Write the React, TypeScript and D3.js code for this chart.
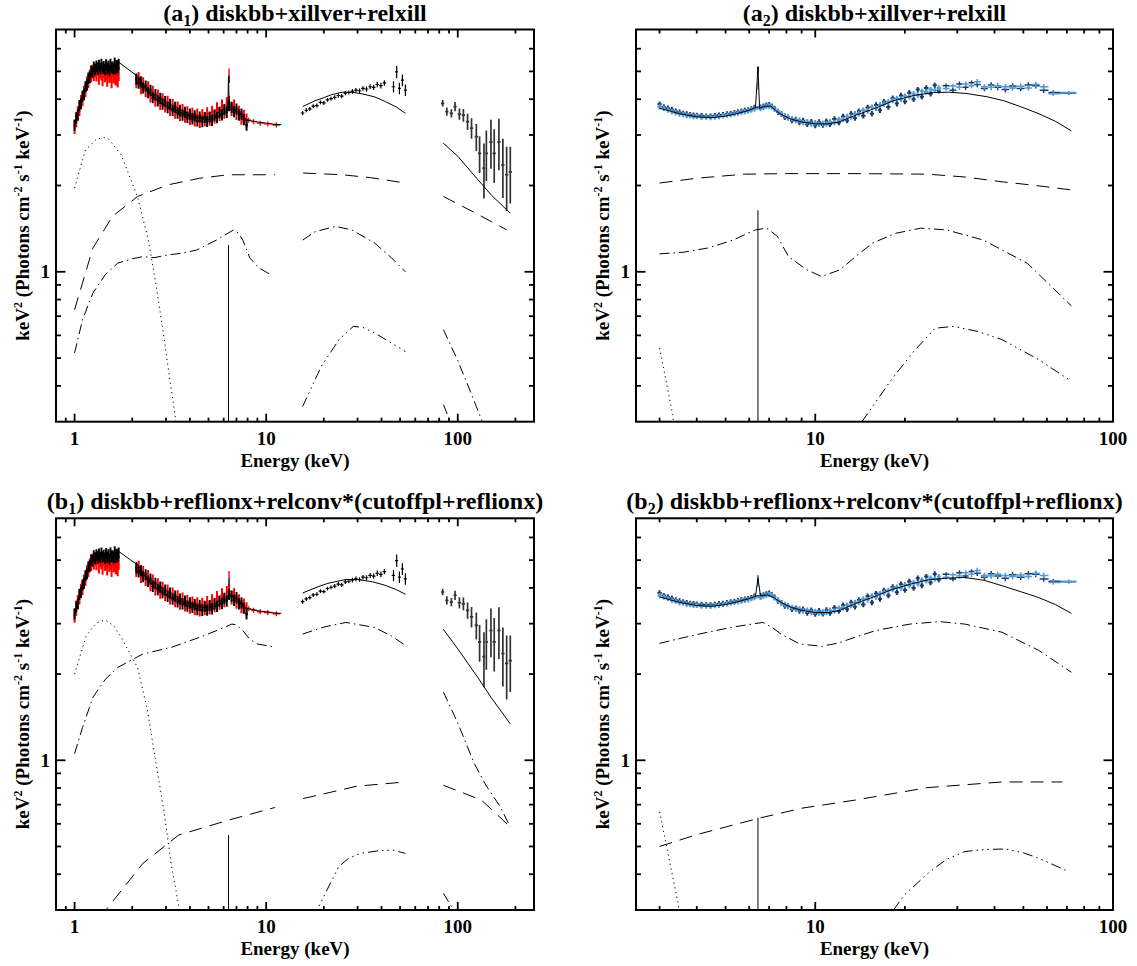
import React from "react";
import * as d3 from "d3";

type P = [number, number];

/* ================= Panel (1): broadband data 1–200 keV ================= */
const soft1E = [1.00,1.02,1.04,1.06,1.08,1.10,1.12,1.14,1.16,1.18,1.20,1.22,1.24,1.26,1.28,1.30,1.32,1.34,1.36,1.38,1.40,1.42,1.44,1.46,1.48,1.50,1.52,1.54,1.56,1.58,1.60,1.62,1.64,1.66,1.68,1.70];
const soft1Black = [3.25,3.45,3.52,3.80,3.86,4.10,4.15,4.42,4.48,4.74,4.78,5.02,4.98,5.18,5.08,5.22,5.10,5.25,5.12,5.30,5.14,5.20,5.08,5.28,5.12,5.22,5.05,5.30,5.15,5.18,5.10,5.35,5.12,5.24,5.16,5.30];
const soft1Red = [3.20,3.38,3.58,3.70,3.92,4.00,4.22,4.30,4.55,4.62,4.80,4.85,5.00,4.90,5.05,4.88,5.10,4.75,5.02,4.92,4.70,5.05,4.85,4.95,4.68,5.00,4.82,4.90,4.62,5.02,4.80,4.95,4.72,4.98,4.65,4.90];

const soft2E = [2.10,2.16,2.22,2.28,2.35,2.42,2.49,2.56,2.64,2.72,2.80,2.88,2.97,3.06,3.15,3.25,3.35,3.45,3.55,3.66,3.77,3.88,4.00,4.12,4.24,4.37,4.50,4.64,4.78,4.92,5.07,5.22,5.38,5.54,5.71,5.88,6.05,6.23,6.40,6.60,6.80,7.00,7.21,7.43,7.65,7.90];
const soft2Black = [4.70,4.55,4.60,4.38,4.45,4.22,4.30,4.05,4.15,3.95,4.03,3.85,3.93,3.74,3.84,3.66,3.75,3.58,3.66,3.52,3.60,3.46,3.55,3.42,3.50,3.36,3.47,3.34,3.45,3.35,3.47,3.38,3.52,3.45,3.60,3.53,3.68,3.60,3.80,3.75,3.62,3.70,3.52,3.55,3.40,3.25];
const soft2Red = [4.62,4.72,4.40,4.52,4.30,4.38,4.12,4.22,3.98,4.10,3.88,3.98,3.80,3.90,3.70,3.80,3.62,3.72,3.55,3.65,3.50,3.58,3.44,3.54,3.40,3.52,3.36,3.50,3.40,3.55,3.42,3.60,3.48,3.70,3.55,3.78,3.62,3.85,3.90,3.70,3.78,3.58,3.60,3.45,3.48,3.38];

const redTailE = [8.1, 8.6, 9.3, 10.2, 11.3];
const redTailF = [3.38, 3.34, 3.30, 3.28, 3.25];

const midE = [15.5,16.2,16.9,17.6,18.4,19.2,20.0,20.9,21.8,22.8,23.8,24.8,25.9,27.0,28.2,29.4,30.7,32.0,33.4,34.9,36.4,38.0,39.7,41.4,46.2,48.0,49.6,51.4,53.3];
const midF = [3.58,3.66,3.70,3.78,3.80,3.90,3.88,3.98,4.02,4.06,4.12,4.10,4.20,4.22,4.26,4.30,4.28,4.36,4.34,4.42,4.40,4.50,4.46,4.56,4.42,4.98,4.36,4.66,4.30];
const midErr = [0.06,0.06,0.06,0.06,0.06,0.06,0.06,0.06,0.06,0.07,0.07,0.07,0.07,0.07,0.08,0.08,0.08,0.08,0.09,0.09,0.09,0.10,0.10,0.10,0.20,0.25,0.20,0.22,0.20];

const hiE = [83.4,87.7,92.6,96.8,102,107,112.5,118,125,130,137,141,149,155,164,172,180,188];
const hiF = [3.87,3.62,3.57,3.77,3.55,3.52,3.34,3.17,2.96,2.59,2.30,2.59,2.84,2.59,2.84,2.36,2.18,2.23];
const hiErr = [0.10,0.12,0.12,0.14,0.16,0.18,0.22,0.26,0.32,0.38,0.50,0.52,0.55,0.55,0.58,0.55,0.55,0.50];

/* Fe-line peak data bins: [energy, black, red] */
const feA1 = [6.40, 4.70, 4.97];
const feB1 = [6.40, 4.20, 4.45];

/* ================= Panel (2): NuSTAR data 3–79 keV ================= */
const nuE = [3.0,3.1,3.2,3.3,3.4,3.5,3.6,3.7,3.8,3.9,4.0,4.15,4.3,4.45,4.6,4.75,4.9,5.05,5.2,5.35,5.5,5.65,5.8,5.95,6.1,6.25,6.55,6.7,6.85,7.0,7.15,7.3,7.5,7.7,7.9,8.1,8.35,8.6,8.85,9.1,9.4,9.7,10.0,10.3,10.6,10.9,11.2,11.6,12.0,12.4,12.8,13.2,13.6,14.0,14.5,15.0,15.5,16.0,16.5,17.0,17.6,18.2,18.8,19.4,20.0,20.7,21.4,22.1,22.8,23.6,24.4,25.2,26.0];
const nuDark = [3.84,3.76,3.72,3.68,3.63,3.60,3.57,3.55,3.53,3.52,3.51,3.50,3.49,3.49,3.50,3.52,3.53,3.55,3.57,3.59,3.61,3.63,3.65,3.67,3.70,3.74,3.75,3.78,3.81,3.83,3.78,3.71,3.60,3.55,3.46,3.46,3.37,3.40,3.32,3.37,3.27,3.34,3.24,3.33,3.25,3.35,3.27,3.41,3.32,3.48,3.37,3.56,3.44,3.63,3.50,3.74,3.56,3.82,3.66,3.92,3.76,4.03,3.86,4.12,3.93,4.21,4.00,4.32,4.08,4.38,4.18,4.47,4.28];
const nuLight = [3.76,3.72,3.67,3.62,3.59,3.55,3.54,3.51,3.50,3.48,3.48,3.46,3.46,3.45,3.47,3.48,3.50,3.52,3.54,3.56,3.58,3.60,3.62,3.64,3.67,3.70,3.71,3.75,3.78,3.79,3.76,3.69,3.63,3.54,3.50,3.44,3.42,3.37,3.38,3.32,3.34,3.28,3.31,3.27,3.30,3.28,3.34,3.32,3.40,3.40,3.48,3.47,3.56,3.56,3.66,3.64,3.75,3.72,3.82,3.85,3.92,3.96,4.02,4.00,4.10,4.08,4.18,4.14,4.26,4.24,4.32,4.30,4.38];

const nuHiE = [27.5,29.0,30.5,32.0,33.5,35.0,37.0,39.0,41.0,43.5,46.0,49.0,52.0,55.0,58.5,63.0,71.0];
const nuHiDark = [4.46,4.30,4.52,4.40,4.56,4.50,4.36,4.48,4.40,4.32,4.45,4.36,4.48,4.46,4.30,4.22,4.20];
const nuHiLight = [4.36,4.45,4.40,4.52,4.46,4.60,4.42,4.40,4.46,4.42,4.38,4.44,4.38,4.50,4.42,4.18,4.22];
const nuHiErr = [0.08,0.08,0.09,0.09,0.09,0.10,0.10,0.10,0.10,0.10,0.10,0.10,0.10,0.10,0.10,0.08,0.06];

const feA2 = [6.42, 5.05, 4.45];
const feB2 = [6.42, 4.30, 4.15];

/* ================= Model components ================= */
// (a1) diskbb+xillver+relxill
const a1Total: P[][] = [
  [[1.0,3.25],[1.05,3.7],[1.1,4.12],[1.15,4.5],[1.2,4.8],[1.25,5.0],[1.3,5.1],[1.4,5.18],[1.5,5.22],[1.6,5.28],[1.7,5.38],[2.15,4.79],[2.3,4.45],[2.5,4.15],[2.8,3.92],[3.0,3.80],[3.5,3.62],[4.0,3.50],[4.5,3.43],[5.0,3.40],[5.5,3.46],[6.0,3.57],[6.3,3.65],[6.36,4.8],[6.42,3.68],[6.8,3.68],[7.2,3.6],[7.6,3.46],[8.0,3.38],[9.0,3.33],[10,3.30],[11,3.27],[12,3.26]],
  [[15.5,3.77],[18,3.95],[20,4.05],[22,4.15],[25,4.23],[28,4.23],[32,4.17],[37,4.07],[42,3.92],[48,3.75],[53.3,3.57]],
  [[84,2.81],[100,2.53],[127,2.1],[150,1.85],[188,1.60]],
];
const a1Disk: P[][] = [[[1.0,1.96],[1.14,2.66],[1.3,2.90],[1.42,2.94],[1.5,2.91],[1.75,2.56],[2.13,1.83],[2.42,1.30],[2.58,1.02],[2.69,0.86],[2.94,0.58],[3.07,0.47],[3.34,0.318],[3.42,0.28]]];
const a1Xill: P[][] = [
  [[1.0,0.737],[1.246,1.21],[1.577,1.56],[2.13,1.83],[3.07,2.01],[4.5,2.12],[6.36,2.18],[11.1,2.18]],
  [[15.6,2.21],[25,2.18],[35,2.13],[53.3,2.04]],
  [[84.2,1.83],[120,1.62],[166.6,1.44],[180,1.40]],
];
const a1Rel: P[][] = [
  [[1.0,0.521],[1.1,0.68],[1.246,0.843],[1.45,0.98],[1.68,1.072],[2.0,1.11],[2.27,1.13],[2.6,1.12],[3.07,1.145],[3.6,1.16],[4.32,1.19],[5.5,1.29],[6.4,1.37],[6.77,1.40],[7.2,1.36],[7.55,1.29],[8.23,1.116],[9.2,1.03],[10.6,0.976]],
  [[15.5,1.29],[18,1.38],[23,1.44],[28,1.40],[36.8,1.26],[45,1.12],[53.3,1.0]],
  [[84.2,0.628],[100,0.49],[115,0.39],[133,0.305],[140,0.28]],
];
const a1Ref: P[][] = [
  [[15.5,0.339],[19.4,0.468],[24,0.58],[28.5,0.645],[32,0.64],[36.8,0.612],[45,0.565],[53.3,0.527]],
  [[84.2,0.344],[90.6,0.305],[93,0.28]],
];
const a1Line: P[] = [[6.36,0.28],[6.36,1.24]];

// (a2)
const a2Total: P[][] = [[[3.0,3.72],[3.5,3.56],[4.0,3.47],[4.5,3.45],[5.0,3.49],[5.5,3.57],[6.0,3.66],[6.3,3.74],[6.42,5.19],[6.5,3.72],[6.8,3.78],[7.1,3.78],[7.6,3.56],[8.2,3.42],[9.0,3.33],[10,3.28],[11,3.28],[12,3.33],[13.5,3.5],[15.7,3.7],[18.3,3.95],[21.4,4.12],[24.9,4.22],[28,4.23],[32,4.19],[37.7,4.08],[43,3.95],[48.8,3.77],[56,3.57],[64,3.35],[72.5,3.1]]];
const a2Xill: P[][] = [[[3.0,2.04],[4.0,2.12],[5.78,2.19],[8,2.2],[13.6,2.2],[23.9,2.19],[32,2.14],[42.4,2.06],[55,2.0],[72.5,1.93]]];
const a2Rel: P[][] = [[[3.0,1.155],[3.6,1.17],[4.35,1.21],[5.3,1.29],[6.29,1.40],[6.86,1.42],[7.46,1.33],[8.13,1.13],[9.37,1.016],[10.5,0.963],[12.1,1.016],[13.8,1.14],[15.6,1.26],[18.5,1.36],[22.6,1.42],[27.6,1.40],[36.7,1.29],[51.6,1.07],[72.5,0.76]]];
const a2Ref: P[][] = [[[14.35,0.30],[18.0,0.42],[21.5,0.53],[25.3,0.636],[29.2,0.645],[35,0.62],[42.4,0.58],[56.3,0.494],[72.5,0.415]]];
const a2Disk: P[][] = [[[3.0,0.542],[3.32,0.318],[3.36,0.28]]];
const a2Line: P[] = [[6.42,0.28],[6.42,1.64]];

// (b1) diskbb+reflionx+relconv*(cutoffpl+reflionx)
const b1Total: P[][] = [
  [[1.0,3.2],[1.05,3.65],[1.1,4.1],[1.15,4.48],[1.2,4.78],[1.25,4.98],[1.3,5.08],[1.4,5.16],[1.5,5.2],[1.6,5.26],[1.7,5.36],[2.15,4.79],[2.3,4.45],[2.5,4.15],[2.8,3.92],[3.0,3.80],[3.5,3.62],[4.0,3.50],[4.5,3.42],[5.0,3.40],[5.5,3.46],[6.0,3.58],[6.3,3.68],[6.4,3.85],[6.5,3.75],[6.8,3.72],[7.2,3.62],[7.6,3.47],[8.0,3.39],[9.0,3.33],[10,3.30],[11,3.27],[12,3.26]],
  [[15.5,3.84],[18,4.0],[21,4.15],[26.1,4.28],[30,4.28],[36,4.2],[42,4.08],[48,3.94],[53.3,3.80]],
  [[84,2.87],[100,2.45],[127,1.95],[150,1.65],[188,1.34]],
];
const b1Disk: P[][] = [[[1.0,2.0],[1.15,2.72],[1.3,3.02],[1.45,3.09],[1.6,2.95],[1.75,2.69],[2.13,2.11],[2.4,1.5],[2.58,1.11],[2.94,0.652],[3.2,0.43],[3.49,0.313],[3.55,0.28]]];
const b1Rel: P[][] = [
  [[1.0,1.055],[1.1,1.3],[1.246,1.66],[1.45,1.92],[1.68,2.11],[2.27,2.35],[3.2,2.48],[4.51,2.69],[5.6,2.85],[6.63,2.99],[7.0,2.97],[7.55,2.84],[8.2,2.65],[8.96,2.55],[10.86,2.49]],
  [[15.5,2.76],[20,2.92],[26.1,3.03],[36.8,2.91],[45,2.72],[53.3,2.52]],
  [[84.2,1.73],[100,1.35],[122,0.974],[140,0.82],[166.6,0.688],[188,0.585]],
];
const b1Cut: P[][] = [
  [[1.38,0.28],[1.48,0.304],[2.27,0.436],[3.49,0.548],[6.36,0.618],[11.1,0.684]],
  [[15.6,0.735],[29.8,0.812],[53.3,0.84]],
  [[84.2,0.818],[133,0.726],[188,0.585]],
];
const b1Ref: P[][] = [
  [[17.5,0.28],[18.6,0.304],[23.9,0.425],[27,0.455],[31,0.473],[38.5,0.483],[45.7,0.486],[53.3,0.473]],
  [[84.2,0.343],[95,0.30],[98,0.28]],
];
const b1Line: P[] = [[6.36,0.28],[6.36,0.548]];

// (b2)
const b2Total: P[][] = [[[3.0,3.72],[3.5,3.56],[4.0,3.47],[4.5,3.45],[5.0,3.5],[5.5,3.58],[6.0,3.67],[6.3,3.74],[6.42,4.32],[6.55,3.75],[6.9,3.78],[7.2,3.72],[7.7,3.55],[8.3,3.42],[9.0,3.34],[10,3.28],[11,3.28],[12,3.33],[13.6,3.52],[15.7,3.72],[18,3.94],[21,4.13],[24,4.27],[28,4.33],[31.8,4.35],[37,4.25],[42.4,4.07],[49,3.88],[56.3,3.70],[64,3.50],[72.5,3.26]]];
const b2Rel: P[][] = [[[3.0,2.56],[3.6,2.68],[4.35,2.80],[5.3,2.92],[6.0,2.98],[6.67,3.03],[7.2,2.9],[7.67,2.76],[8.85,2.55],[10.5,2.50],[12,2.57],[13.6,2.69],[16,2.84],[20.8,2.99],[26.1,3.05],[31.8,2.99],[42.4,2.80],[56.3,2.42],[72.5,2.03]]];
const b2Cut: P[][] = [[[3.0,0.50],[4.0,0.55],[6.45,0.627],[9,0.68],[13.6,0.726],[23.9,0.803],[42.4,0.84],[67.6,0.84]]];
const b2Ref: P[][] = [[[18.3,0.30],[20,0.34],[23.9,0.403],[27.5,0.45],[31.8,0.48],[37,0.488],[43.5,0.49],[50,0.475],[56.3,0.455],[70.4,0.41]]];
const b2Disk: P[][] = [[[3.0,0.66],[3.47,0.313],[3.5,0.28]]];
const b2Line: P[] = [[6.42,0.28],[6.42,0.63]];

/* ================= Axis ticks ================= */
const xMajor1 = [1, 10, 100];
const xMinor1 = [0.9, 2, 3, 4, 5, 6, 7, 8, 9, 20, 30, 40, 50, 60, 70, 80, 90, 200];
const xMajor2 = [10, 100];
const xMinor2 = [3, 4, 5, 6, 7, 8, 9, 20, 30, 40, 50, 60, 70, 80, 90];
const yMajor = [1];
const yMinor = [0.4, 0.5, 0.6, 0.7, 0.8, 0.9, 2, 3, 4, 5, 6];
const Y_DOMAIN: [number, number] = [0.3, 7];

/* ================= Styling ================= */
const FONT = "'Liberation Serif','Times New Roman',Times,serif";
const DOT = "1.2 3.6";
const DASH = "13 8";
const DASHDOT = "10 4 1.5 4";
const DASH3 = "10 4 1.5 4 1.5 4 1.5 4";
const RED = "#ff0000";
const DARK = "#1b3a6b";
const LIGHT = "#4f9bd6";

type Scale = d3.ScaleLogarithmic<number, number>;

function errPath(E: number[], F: number[], err: number | number[], sx: Scale, sy: Scale, maxHalf: number): string {
  let d = "";
  for (let i = 0; i < E.length; i++) {
    const e = E[i];
    let lo: number, hi: number;
    if (E.length === 1) { lo = e * (1 - maxHalf); hi = e * (1 + maxHalf); }
    else {
      lo = i > 0 ? Math.sqrt(E[i - 1] * e) : e * Math.sqrt(e / E[i + 1]);
      hi = i < E.length - 1 ? Math.sqrt(E[i + 1] * e) : e * Math.sqrt(e / E[i - 1]);
      lo = Math.max(lo, e * (1 - maxHalf));
      hi = Math.min(hi, e * (1 + maxHalf));
    }
    const er = typeof err === "number" ? err * F[i] : err[i];
    const y = sy(F[i]);
    d += `M${sx(lo).toFixed(2)},${y.toFixed(2)}H${sx(hi).toFixed(2)}M${sx(e).toFixed(2)},${sy(F[i] + er).toFixed(2)}V${sy(Math.max(F[i] - er, 0.05)).toFixed(2)}`;
  }
  return d;
}

interface PanelProps {
  id: string;
  left: number; right: number; top: number; bottom: number;
  xDomain: [number, number];
  xMajor: number[]; xMinor: number[];
  letter: string; sub: string; title: string;
  draw: (sx: Scale, sy: Scale) => React.ReactNode;
}

function Panel(p: PanelProps) {
  const sx = d3.scaleLog().domain(p.xDomain).range([p.left, p.right]);
  const sy = d3.scaleLog().domain(Y_DOMAIN).range([p.bottom, p.top]);
  const cx = (p.left + p.right) / 2;
  const cy = (p.top + p.bottom) / 2;
  const clipId = `clip-${p.id}`;
  const ticks: React.ReactNode[] = [];
  const tick = (x1: number, y1: number, x2: number, y2: number, k: string) =>
    ticks.push(<line key={k} x1={x1} y1={y1} x2={x2} y2={y2} stroke="#000" strokeWidth={1.8} />);
  p.xMajor.forEach((v, i) => { const x = sx(v); tick(x, p.bottom, x, p.bottom - 8, `xM${i}`); tick(x, p.top, x, p.top + 8, `xMt${i}`); });
  p.xMinor.forEach((v, i) => { const x = sx(v); tick(x, p.bottom, x, p.bottom - 4, `xm${i}`); tick(x, p.top, x, p.top + 4, `xmt${i}`); });
  yMajor.forEach((v, i) => { const y = sy(v); tick(p.left, y, p.left + 9.5, y, `yM${i}`); tick(p.right, y, p.right - 9.5, y, `yMr${i}`); });
  yMinor.forEach((v, i) => { const y = sy(v); tick(p.left, y, p.left + 5, y, `ym${i}`); tick(p.right, y, p.right - 5, y, `ymr${i}`); });

  return (
    <g>
      <defs>
        <clipPath id={clipId}>
          <rect x={p.left} y={p.top} width={p.right - p.left} height={p.bottom - p.top} />
        </clipPath>
      </defs>
      <g clipPath={`url(#${clipId})`}>{p.draw(sx, sy)}</g>
      <rect x={p.left} y={p.top} width={p.right - p.left} height={p.bottom - p.top} fill="none" stroke="#000" strokeWidth={2} />
      {ticks}
      {p.xMajor.map((v, i) => (
        <text key={`xl${i}`} x={sx(v)} y={p.bottom + 23} textAnchor="middle" fontSize={19} fontWeight="bold" fontFamily={FONT}>{String(v)}</text>
      ))}
      {yMajor.map((v, i) => (
        <text key={`yl${i}`} x={p.left - 6} y={sy(v) + 6.5} textAnchor="end" fontSize={19} fontWeight="bold" fontFamily={FONT}>{String(v)}</text>
      ))}
      <text x={cx} y={p.bottom + 45} textAnchor="middle" fontSize={19} fontWeight="bold" fontFamily={FONT}>Energy (keV)</text>
      <text transform={`translate(${p.left - 27},${cy}) rotate(-90)`} textAnchor="middle" fontSize={19} fontWeight="bold" fontFamily={FONT}>
        keV<tspan dy={-7} fontSize={12}>2</tspan>
        <tspan dy={7}> (Photons cm</tspan><tspan dy={-7} fontSize={12}>-2</tspan>
        <tspan dy={7}> s</tspan><tspan dy={-7} fontSize={12}>-1</tspan>
        <tspan dy={7}> keV</tspan><tspan dy={-7} fontSize={12}>-1</tspan>
        <tspan dy={7}>)</tspan>
      </text>
      <text x={cx} y={p.top - 9} textAnchor="middle" fontSize={24} fontWeight="bold" fontFamily={FONT}>
        ({p.letter}<tspan dy={5} fontSize={16}>{p.sub}</tspan><tspan dy={-5}>) {p.title}</tspan>
      </text>
    </g>
  );
}

function curves(segs: P[][], dash: string | undefined, sx: Scale, sy: Scale, key: string) {
  const gen = d3.line<P>().x((d) => sx(d[0])).y((d) => sy(d[1]));
  return segs.map((s, i) => (
    <path key={`${key}${i}`} d={gen(s) || ""} fill="none" stroke="#000" strokeWidth={1} strokeDasharray={dash} />
  ));
}

function drawPanel1(total: P[][], comps: { segs: P[][]; dash: string }[], line: P[], fe: number[]) {
  return (sx: Scale, sy: Scale) => (
    <g>
      <path d={errPath(soft1E, soft1Red, 0.055, sx, sy, 0.06)} stroke={RED} strokeWidth={2} fill="none" />
      <path d={errPath(soft2E, soft2Red, 0.055, sx, sy, 0.06)} stroke={RED} strokeWidth={2} fill="none" />
      <path d={errPath(redTailE, redTailF, 0.02, sx, sy, 0.045)} stroke={RED} strokeWidth={1.4} fill="none" />
      <path d={errPath([fe[0]], [fe[2]], 0.03, sx, sy, 0.006)} stroke={RED} strokeWidth={1.4} fill="none" />
      <path d={errPath(soft1E, soft1Black, 0.045, sx, sy, 0.06)} stroke="#000" strokeWidth={1.9} fill="none" />
      <path d={errPath(soft2E, soft2Black, 0.045, sx, sy, 0.06)} stroke="#000" strokeWidth={1.9} fill="none" />
      <path d={errPath([fe[0]], [fe[1]], 0.03, sx, sy, 0.006)} stroke="#000" strokeWidth={1.4} fill="none" />
      <path d={errPath(midE, midF, midErr, sx, sy, 0.022)} stroke="#000" strokeWidth={1.2} fill="none" />
      <path d={errPath(hiE, hiF, hiErr, sx, sy, 0.02)} stroke="#333" strokeWidth={1.7} fill="none" />
      {curves(total, undefined, sx, sy, "tot")}
      {comps.map((c, i) => <g key={i}>{curves(c.segs, c.dash, sx, sy, `c${i}`)}</g>)}
      {curves([line], undefined, sx, sy, "ln")}
    </g>
  );
}

function drawPanel2(total: P[][], comps: { segs: P[][]; dash: string }[], line: P[], fe: number[]) {
  return (sx: Scale, sy: Scale) => (
    <g>
      <path d={errPath(nuE, nuDark, 0.022, sx, sy, 0.05)} stroke={DARK} strokeWidth={2} fill="none" />
      <path d={errPath(nuHiE, nuHiDark, nuHiErr, sx, sy, 0.06)} stroke={DARK} strokeWidth={1.5} fill="none" />
      <path d={errPath([fe[0]], [fe[1]], 0.03, sx, sy, 0.006)} stroke={DARK} strokeWidth={1.4} fill="none" />
      <path d={errPath(nuE, nuLight, 0.022, sx, sy, 0.05)} stroke={LIGHT} strokeWidth={2} fill="none" />
      <path d={errPath(nuHiE, nuHiLight, nuHiErr, sx, sy, 0.06)} stroke={LIGHT} strokeWidth={1.5} fill="none" />
      <path d={errPath([fe[0]], [fe[2]], 0.03, sx, sy, 0.006)} stroke={LIGHT} strokeWidth={1.4} fill="none" />
      {curves(total, undefined, sx, sy, "tot")}
      {comps.map((c, i) => <g key={i}>{curves(c.segs, c.dash, sx, sy, `c${i}`)}</g>)}
      {curves([line], undefined, sx, sy, "ln")}
    </g>
  );
}

export default function App() {
  const L1 = 56, R1 = 534, L2 = 636, R2 = 1113;
  const TA = 29.5, BA = 421.7, TB = 518.3, BB = 910;
  return (
    <svg width={1137} height={966} style={{ position: "absolute", left: 0, top: 0, background: "#fff" }}>
      <rect x={0} y={0} width={1137} height={966} fill="#fff" />
      <Panel id="a1" left={L1} right={R1} top={TA} bottom={BA} xDomain={[0.8, 250]} xMajor={xMajor1} xMinor={xMinor1}
        letter="a" sub="1" title="diskbb+xillver+relxill"
        draw={drawPanel1(a1Total, [{ segs: a1Disk, dash: DOT }, { segs: a1Xill, dash: DASH }, { segs: a1Rel, dash: DASHDOT }, { segs: a1Ref, dash: DASH3 }], a1Line, feA1)} />
      <Panel id="a2" left={L2} right={R2} top={TA} bottom={BA} xDomain={[2.5, 100]} xMajor={xMajor2} xMinor={xMinor2}
        letter="a" sub="2" title="diskbb+xillver+relxill"
        draw={drawPanel2(a2Total, [{ segs: a2Disk, dash: DOT }, { segs: a2Xill, dash: DASH }, { segs: a2Rel, dash: DASHDOT }, { segs: a2Ref, dash: DASH3 }], a2Line, feA2)} />
      <Panel id="b1" left={L1} right={R1} top={TB} bottom={BB} xDomain={[0.8, 250]} xMajor={xMajor1} xMinor={xMinor1}
        letter="b" sub="1" title="diskbb+reflionx+relconv*(cutoffpl+reflionx)"
        draw={drawPanel1(b1Total, [{ segs: b1Disk, dash: DOT }, { segs: b1Cut, dash: DASH }, { segs: b1Rel, dash: DASHDOT }, { segs: b1Ref, dash: DASH3 }], b1Line, feB1)} />
      <Panel id="b2" left={L2} right={R2} top={TB} bottom={BB} xDomain={[2.5, 100]} xMajor={xMajor2} xMinor={xMinor2}
        letter="b" sub="2" title="diskbb+reflionx+relconv*(cutoffpl+reflionx)"
        draw={drawPanel2(b2Total, [{ segs: b2Disk, dash: DOT }, { segs: b2Cut, dash: DASH }, { segs: b2Rel, dash: DASHDOT }, { segs: b2Ref, dash: DASH3 }], b2Line, feB2)} />
    </svg>
  );
}
